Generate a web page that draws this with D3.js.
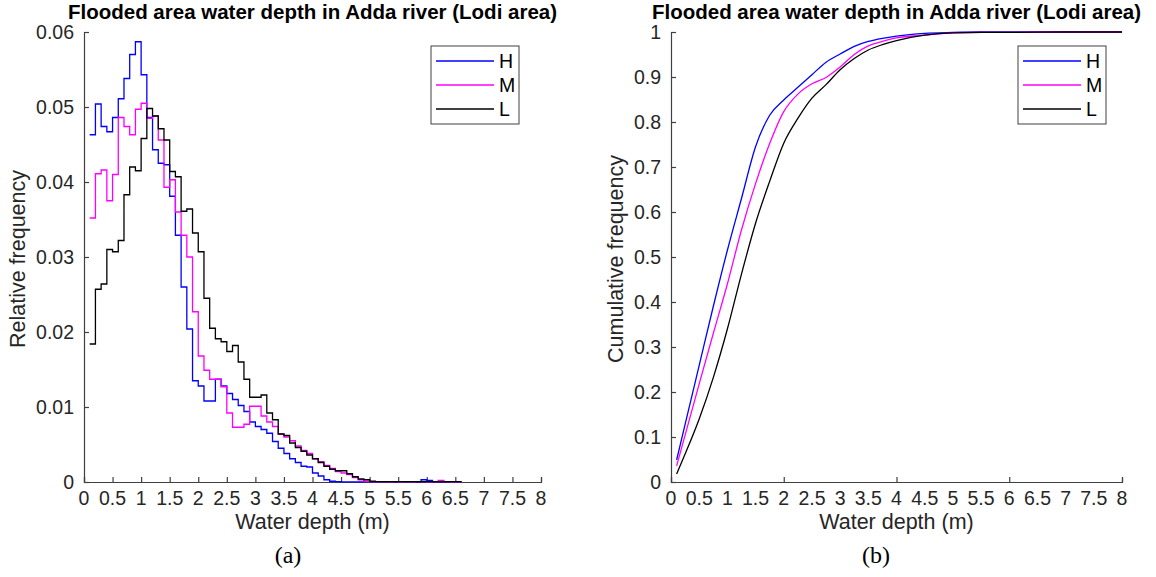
<!DOCTYPE html>
<html>
<head>
<meta charset="utf-8">
<script src="https://cdn.jsdelivr.net/npm/d3@7"></script>
<style>
  body { margin: 0; background: #fff; }
  svg text { font-family: "Liberation Sans", Arial, sans-serif; }
</style>
</head>
<body>
<div id="chart"></div>
<script>
// histogram bins start at 0.1 and are 0.1 wide
const binStart = d3.range(1, 66).map(i => i / 10);

const histH = [0.0463,0.0504,0.0474,0.0467,0.0486,0.0511,0.0538,0.0570,0.0587,0.0543,
  0.0486,0.0443,0.0425,0.0423,0.0381,0.0329,0.0260,0.0204,0.0135,0.0128,
  0.0108,0.0108,0.0137,0.0128,0.0118,0.0110,0.0102,0.0094,0.0080,0.0074,
  0.0070,0.0065,0.0054,0.0045,0.0038,0.0031,0.0026,0.0021,0.0020,0.0012,
  0.0008,0.0003,0.0001,0.00005,0.00003,0.00003,0.00003,0.00003,0.00005,0.00003,
  0.00003,0.00005,0.00005,0.00003,0.00005,0.00005,0.00003,0.00003,0.0003,0.0002,
  0.00003,0.00005,0.00003,0.00005,0.00003];
const histM = [0.0352,0.0411,0.0416,0.0375,0.0410,0.0486,0.0474,0.0463,0.0497,0.0505,
  0.0485,0.0488,0.0456,0.0393,0.0403,0.0360,0.0329,0.0300,0.0227,0.0168,
  0.0149,0.0137,0.0137,0.0127,0.0092,0.0073,0.0073,0.0077,0.0101,0.0101,
  0.0088,0.0080,0.0074,0.0064,0.0060,0.0055,0.0048,0.0042,0.0038,0.0031,
  0.0027,0.0022,0.0018,0.0014,0.0012,0.0010,0.0006,0.0003,0.0001,0.00005,
  0.00003,0.00005,0.00003,0.00005,0.00003,0.00005,0.00003,0.00005,0.00005,0.00003,
  0.00005,0.0002,0.00005,0.00003,0.00003];
const histL = [0.0184,0.0257,0.0264,0.0310,0.0307,0.0322,0.0383,0.0420,0.0415,0.0458,
  0.0498,0.0488,0.0471,0.0456,0.0414,0.0407,0.0361,0.0364,0.0332,0.0307,
  0.0245,0.0205,0.0191,0.0187,0.0174,0.0182,0.0160,0.0137,0.0113,0.0113,
  0.0116,0.0092,0.0083,0.0064,0.0062,0.0052,0.0046,0.0041,0.0036,0.0031,
  0.0026,0.0021,0.0017,0.0015,0.0015,0.0011,0.0007,0.0004,0.0003,0.0001,
  0.00005,0.00005,0.00005,0.00005,0.00005,0.00005,0.00005,0.00005,0.00005,0.00005,
  0.00005,0.00005,0.00005,0.00005,0.00005];

// cumulative frequency read at these depths
const cdfX = [0.1,0.25,0.5,0.75,1,1.25,1.5,1.75,2,2.25,2.5,2.75,3,3.25,3.5,3.75,4,4.5,5,5.5,6,7,8];
const cdfH = [0.049,0.128,0.259,0.390,0.515,0.630,0.745,0.815,0.849,0.877,0.905,0.933,0.951,0.968,0.979,0.986,0.991,0.997,0.999,1,1,1,1];
const cdfM = [0.036,0.104,0.218,0.330,0.440,0.560,0.663,0.752,0.823,0.862,0.885,0.899,0.922,0.950,0.969,0.979,0.987,0.993,0.998,0.999,0.999,1,1];
const cdfL = [0.018,0.062,0.140,0.232,0.340,0.462,0.575,0.668,0.753,0.808,0.853,0.883,0.916,0.941,0.960,0.972,0.981,0.993,0.998,0.999,0.999,1,1];

const seriesNames = ["H", "M", "L"];
const seriesColors = ["#0000ff", "#ff00ff", "#000000"];
const titleText = "Flooded area water depth in Adda river (Lodi area)";
const xTickVals = d3.range(0, 8.01, 0.5);

const W = 1156, H = 577;
const axisColor = "#404040", textColor = "#262626";

const svg = d3.select("#chart").append("svg")
  .attr("width", W).attr("height", H);

function drawPanel(opt) {
  const x = d3.scaleLinear().domain([0, 8]).range([opt.left, opt.right]);
  const y = d3.scaleLinear().domain([0, opt.ymax]).range([482, 32]);
  const g = svg.append("g");

  // axes lines with inward ticks
  const xAxis = d3.axisBottom(x).tickValues(opt.xTickMarks).tickSize(-5).tickFormat("");
  const xg = g.append("g").attr("transform", "translate(0,482)").call(xAxis);
  const yAxis = d3.axisLeft(y).tickValues(opt.yTicks).tickSize(-5).tickFormat("");
  const yg = g.append("g").attr("transform", "translate(" + opt.left + ",0)").call(yAxis);
  [xg, yg].forEach(a => {
    a.select(".domain").attr("stroke", axisColor).attr("stroke-width", 1.2);
    a.selectAll(".tick line").attr("stroke", axisColor).attr("stroke-width", 1.2);
  });

  // tick labels
  g.append("g").selectAll("text").data(xTickVals).enter().append("text")
    .attr("x", d => x(d)).attr("y", 505)
    .attr("text-anchor", "middle")
    .style("font-size", "19.5px").attr("fill", textColor)
    .text(d => d3.format("~g")(d));
  g.append("g").selectAll("text").data(opt.yTicks).enter().append("text")
    .attr("x", opt.left - 10).attr("y", d => y(d) + 7)
    .attr("text-anchor", "end")
    .style("font-size", "19.5px").attr("fill", textColor)
    .text(d => opt.yFormat(d));

  // titles and labels
  const cx = (opt.left + opt.right) / 2;
  g.append("text").attr("x", cx).attr("y", 18.5).attr("text-anchor", "middle")
    .style("font-size", "20.5px").style("font-weight", "bold").attr("fill", "#000")
    .text(titleText);
  g.append("text").attr("x", cx).attr("y", 529).attr("text-anchor", "middle")
    .style("font-size", "21.5px").attr("fill", textColor)
    .text("Water depth (m)");
  g.append("text")
    .attr("transform", "translate(" + opt.ylabelX + ",259) rotate(-90)")
    .attr("text-anchor", "middle")
    .style("font-size", "21.5px").attr("fill", textColor)
    .text(opt.ylabel);
  g.append("text").attr("x", opt.capX).attr("y", 563).attr("text-anchor", "middle")
    .style("font-family", "'Liberation Serif', 'Times New Roman', serif")
    .style("font-size", "24px").attr("fill", "#000")
    .text(opt.caption);

  // data lines
  opt.series.forEach((s, i) => {
    g.append("path").datum(s)
      .attr("fill", "none")
      .attr("stroke", seriesColors[i])
      .attr("stroke-width", 1.3)
      .attr("d", opt.line(x, y));
  });

  // legend
  const lg = g.append("g").attr("transform", "translate(" + opt.legendX + ",46)");
  lg.append("rect").attr("width", 88).attr("height", 78)
    .attr("fill", "#fff").attr("stroke", axisColor).attr("stroke-width", 1);
  seriesNames.forEach((n, i) => {
    const yy = 15 + i * 24;
    lg.append("line").attr("x1", 5).attr("x2", 63).attr("y1", yy).attr("y2", yy)
      .attr("stroke", seriesColors[i]).attr("stroke-width", 1.3);
    lg.append("text").attr("x", 68).attr("y", yy + 7)
      .style("font-size", "19.5px").attr("fill", "#000").text(n);
  });
}

// (a) histogram as stairs
const stairPoints = vals => {
  const pts = binStart.map((b, i) => [b, vals[i]]);
  pts.push([6.6, vals[vals.length - 1]]);
  pts.push([6.6, 0]);
  return pts;
};
drawPanel({
  left: 84, right: 541, ymax: 0.06,
  yTicks: d3.range(0, 0.0601, 0.01),
  yFormat: d => d3.format("~g")(+d.toFixed(2)),
  xTickMarks: xTickVals,
  ylabel: "Relative frequency", ylabelX: 25,
  caption: "(a)", capX: 288, legendX: 431,
  series: [histH, histM, histL].map(stairPoints),
  line: (x, y) => d3.line().x(d => x(d[0])).y(d => y(d[1])).curve(d3.curveStepAfter)
});

// (b) cumulative frequency
drawPanel({
  left: 671, right: 1122, ymax: 1,
  yTicks: d3.range(0, 1.001, 0.1),
  yFormat: d => d3.format("~g")(+d.toFixed(1)),
  xTickMarks: [0, 2, 4, 6, 8],
  ylabel: "Cumulative frequency", ylabelX: 623,
  caption: "(b)", capX: 876, legendX: 1018,
  series: [cdfH, cdfM, cdfL].map(v => cdfX.map((c, i) => [c, v[i]])),
  line: (x, y) => d3.line().x(d => x(d[0])).y(d => y(d[1])).curve(d3.curveMonotoneX)
});
</script>
</body>
</html>
